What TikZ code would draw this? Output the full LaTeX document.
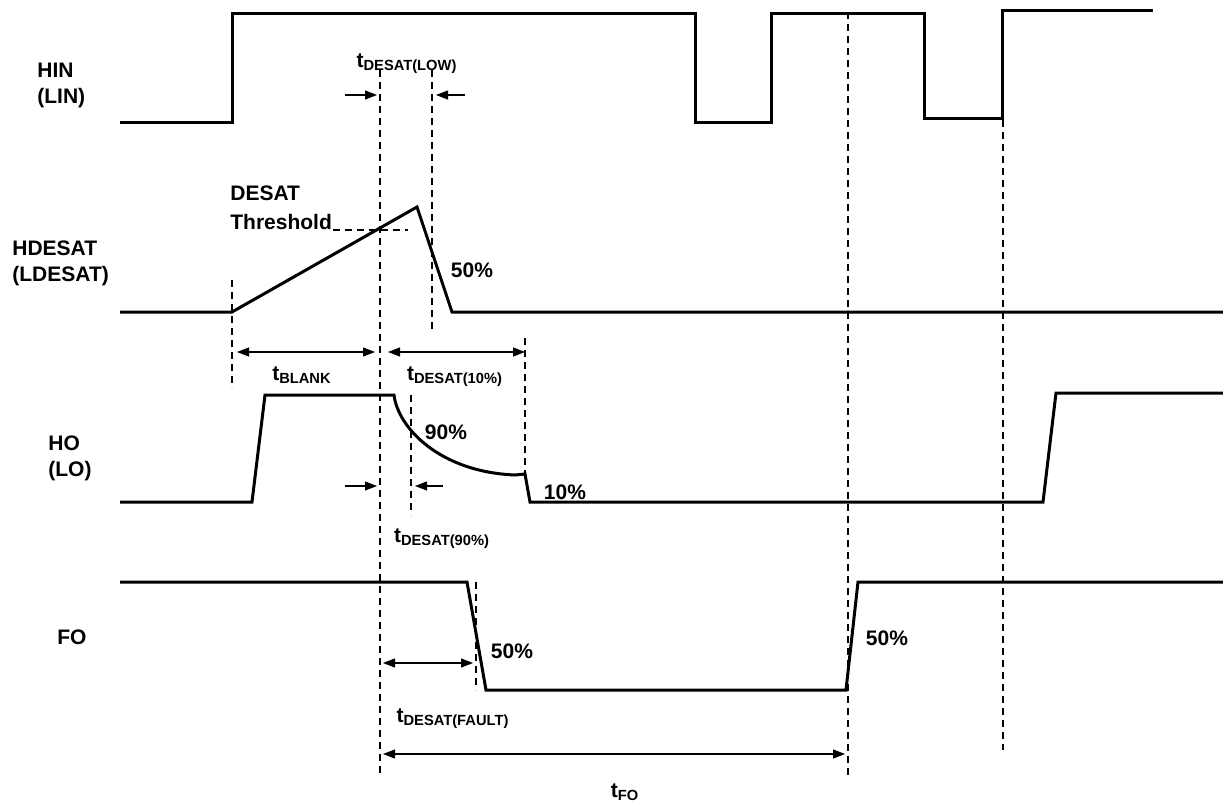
\documentclass[tikz,border=0pt]{standalone}
\usepackage{fontspec}
\setmainfont{Liberation Sans}
\usepackage{tikz}
\usetikzlibrary{arrows.meta}
\newcommand{\tsub}[1]{t\textsubscript{#1}}

\begin{document}
\begin{tikzpicture}[
		x=0.5pt, y=-0.5pt,
		every node/.style={font=\bfseries\fontsize{10.5}{13}\selectfont, inner sep=0pt},
		sig/.style={line width=1.5pt},
		guide/.style={line width=0.6pt, dash pattern=on 3.5pt off 2.5pt},
		dim/.style={line width=0.6pt, {Triangle[length=6pt,width=4.5pt]}-{Triangle[length=6pt,width=4.5pt]}},
		tip/.style={line width=0.6pt, -{Triangle[length=6pt,width=4.5pt]}}
	]
  \useasboundingbox (0,0) rectangle (1223,803);
  \node (hin) [anchor=west, align=left] at (37,85) {HIN\\(LIN)};
  \node (hdesat) [anchor=west, align=left] at (12,263) {HDESAT\\(LDESAT)};
  \node (ho) [anchor=west, align=left] at (48,458) {HO\\(LO)};
  \node (fo) [anchor=west] at (57,637) {FO};
  \draw[sig] (120,122) -- (232,122) -- (232,13) -- (695,13) -- (695,122) -- (771,122) -- (771,13) -- (924,13) -- (924,118) -- (1002,118) -- (1002,10) -- (1153,10);
  \draw[sig] (120,312) -- (232,312) -- (417,207) -- (452,312) -- (1223,312);
  \draw[sig] (120,502) -- (252,502) -- (265,395) -- (394,395) .. controls (398,428) and (440,472) .. (515,475) -- (525,474) -- (530,502) -- (1043,502) -- (1056,393) -- (1223,393);
  \draw[sig] (120,582) -- (467,582) -- (486,690) -- (846,690) -- (858,582) -- (1223,582);
  \draw[guide] (232,280) -- (232,388);
  \draw[guide] (380,70) -- (380,775);
  \draw[guide] (432,70) -- (432,330);
  \draw[guide] (411,395) -- (411,515);
  \draw[guide] (525,338) -- (525,474);
  \draw[guide] (476,582) -- (476,690);
  \draw[guide] (848,12) -- (848,775);
  \draw[guide] (1003,120) -- (1003,750);
  \draw[guide] (333,230) -- (408,230);
  \coordinate (blank_a) at (237,352);
  \coordinate (blank_b) at (375,352);
  \coordinate (d10_a) at (388,352);
  \coordinate (d10_b) at (525,352);
  \coordinate (fault_a) at (383,663);
  \coordinate (fault_b) at (473,663);
  \coordinate (fo_a) at (383,754);
  \coordinate (fo_b) at (845,754);
  \coordinate (low_a) at (345,95);
  \coordinate (low_b) at (377,95);
  \coordinate (low_c) at (465,95);
  \coordinate (low_d) at (436,95);
  \coordinate (d90_a) at (345,486);
  \coordinate (d90_b) at (377,486);
  \coordinate (d90_c) at (443,486);
  \coordinate (d90_d) at (415,486);
  \draw[dim] (blank_a) -- (blank_b);
  \draw[dim] (d10_a) -- (d10_b);
  \draw[dim] (fault_a) -- (fault_b);
  \draw[dim] (fo_a) -- (fo_b);
  \draw[tip] (low_a) -- (low_b);
  \draw[tip] (low_c) -- (low_d);
  \draw[tip] (d90_a) -- (d90_b);
  \draw[tip] (d90_c) -- (d90_d);
  \node (t_low) at (407,64) {\tsub{DESAT(LOW)}};
  \node (thr) [anchor=west, align=left] at (230,208) {DESAT\\[1.5pt]Threshold};
  \node (p_desat) at (472,270) {50\%};
  \node (t_blank) at (302,375) {\tsub{BLANK}};
  \node (t_d10) at (455,377) {\tsub{DESAT(10\%)}};
  \node (p_90) at (446,432) {90\%};
  \node (p_10) at (565,492) {10\%};
  \node (t_d90) at (442,539) {\tsub{DESAT(90\%)}};
  \node (p_fo1) at (512,651) {50\%};
  \node (t_fault) at (453,719) {\tsub{DESAT(FAULT)}};
  \node (p_fo2) at (887,638) {50\%};
  \node (t_fo) at (625,792) {\tsub{FO}};
\end{tikzpicture}
\end{document}
